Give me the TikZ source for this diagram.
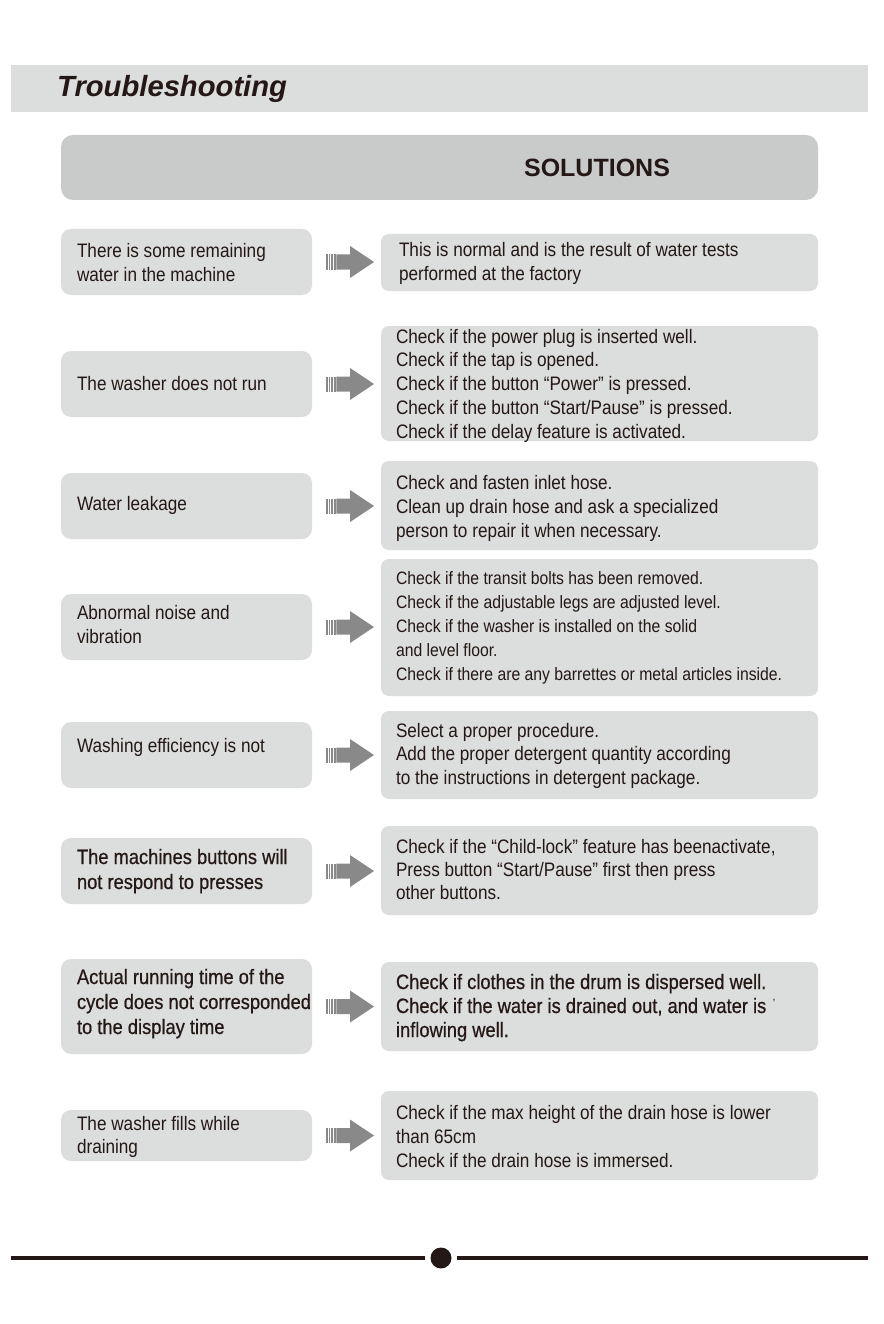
\documentclass[tikz,border=0pt]{standalone}
\usepackage{fontspec}
\setmainfont[FakeStretch=0.88]{Liberation Sans}
\newfontfamily\plainsans{Liberation Sans}
\newfontfamily\heavysans[FakeStretch=0.88,FakeBold=0.6]{Liberation Sans}
\usetikzlibrary{calc}
\definecolor{ink}{HTML}{231815}
\definecolor{boxgray}{HTML}{DCDDDD}
\definecolor{bargray}{HTML}{C9CACA}
\definecolor{arrowgray}{HTML}{898989}
\newcommand\topstrut{\rule{0pt}{18pt}}
\begin{document}
\begin{tikzpicture}[x=1pt,y=-1pt,
  box/.style={inner sep=0pt, outer sep=0pt, anchor=north west, fill=boxgray},
  probbox/.style={box, rounded corners=10pt},
  solbox/.style={box, rounded corners=8pt},
  txt/.style={anchor=north west, inner sep=0pt, outer sep=0pt, align=left, text=ink,
    font=\fontsize{19.5}{24}\selectfont},
  bigtxt/.style={txt, font=\heavysans\fontsize{20.8}{25}\selectfont},
  smalltxt/.style={txt, font=\fontsize{17.9}{24}\selectfont},
  footline/.style={draw=ink, line width=3.5pt},
  stripearrow/.pic={
    \foreach \s in {0,2.6,5.2,7.8} \fill[arrowgray] (\s,-7.5) rectangle ++(1.7,15);
    \fill[arrowgray] (10.4,-7.5) -- (24,-7.5) -- (24,-16) -- (48,0) -- (24,16) -- (24,7.5) -- (10.4,7.5) -- cycle;
  }
]
\useasboundingbox (0,0) rectangle (883,1324);
\fill[white] (0,0) rectangle (883,1324);

% header
\node[box, minimum width=857pt, minimum height=47pt] (hdr) at (11,65) {};
\node[anchor=base west, inner sep=0pt, text=ink, font=\plainsans\bfseries\itshape\fontsize{29.2}{34}\selectfont] (title) at (57,97) {Troubleshooting};

\node[box, fill=bargray, rounded corners=12pt, minimum width=757pt, minimum height=65pt] (bar) at (61,135) {};
\node[anchor=base, inner sep=0pt, text=ink, font=\plainsans\bfseries\fontsize{25}{30}\selectfont] (sol) at (597,177) {SOLUTIONS};

% boxes
\node[probbox, minimum width=251pt, minimum height=66pt] (L1) at (61,229) {};
\node[probbox, minimum width=251pt, minimum height=66pt] (L2) at (61,351) {};
\node[probbox, minimum width=251pt, minimum height=66pt] (L3) at (61,473) {};
\node[probbox, minimum width=251pt, minimum height=66pt] (L4) at (61,594) {};
\node[probbox, minimum width=251pt, minimum height=66pt] (L5) at (61,722) {};
\node[probbox, minimum width=251pt, minimum height=66pt] (L6) at (61,838) {};
\node[probbox, minimum width=251pt, minimum height=95pt] (L7) at (61,959) {};
\node[probbox, minimum width=251pt, minimum height=51pt] (L8) at (61,1110) {};

\node[solbox, minimum width=437pt, minimum height=57pt] (R1) at (381,234) {};
\node[solbox, minimum width=437pt, minimum height=115pt] (R2) at (381,326) {};
\node[solbox, minimum width=437pt, minimum height=89pt] (R3) at (381,461) {};
\node[solbox, minimum width=437pt, minimum height=137pt] (R4) at (381,559) {};
\node[solbox, minimum width=437pt, minimum height=88pt] (R5) at (381,711) {};
\node[solbox, minimum width=437pt, minimum height=89pt] (R6) at (381,826) {};
\node[solbox, minimum width=437pt, minimum height=89pt] (R7) at (381,962) {};
\node[solbox, minimum width=437pt, minimum height=89pt] (R8) at (381,1091) {};

% arrows
\foreach \i in {1,...,8} \pic (A\i) at ($(L\i.east)+(14,0)$) {stripearrow};

% problem texts
\node[txt] (L1t) at (77,257-18) {\topstrut There is some remaining\\water in the machine};
\node[txt] (L2t) at (77,390-18) {\topstrut The washer does not run};
\node[txt] (L3t) at (77,510-18) {\topstrut Water leakage};
\node[txt] (L4t) at (77,619-18) {\topstrut Abnormal noise and\\vibration};
\node[txt] (L5t) at (77,752-18) {\topstrut Washing efficiency is not};
\node[bigtxt] (L6t) at (77,864-18) {\topstrut The machines buttons will\\not respond to presses};
\node[bigtxt] (L7t) at (77,984-18) {\topstrut Actual running time of the\\cycle does not corresponded\\to the display time};
\node[txt, font=\fontsize{19.5}{23}\selectfont] (L8t) at (77,1130-18) {\topstrut The washer fills while\\draining};

% solution texts
\node[txt] (R1t) at (399,256-18) {\topstrut This is normal and is the result of water tests\\performed at the factory};
\node[txt, font=\fontsize{19.5}{23.75}\selectfont] (R2t) at (396,343-18) {\topstrut Check if the power plug is inserted well.\\Check if the tap is opened.\\Check if the button “Power” is pressed.\\Check if the button “Start/Pause” is pressed.\\Check if the delay feature is activated.};
\node[txt] (R3t) at (396,489-18) {\topstrut Check and fasten inlet hose.\\Clean up drain hose and ask a specialized\\person to repair it when necessary.};
\node[smalltxt] (R4t) at (396,584-18) {\topstrut Check if the transit bolts has been removed.\\Check if the adjustable legs are adjusted level.\\Check if the washer is installed on the solid\\and level floor.\\Check if there are any barrettes or metal articles inside.};
\node[txt, font=\fontsize{19.5}{23.5}\selectfont] (R5t) at (396,737-18) {\topstrut Select a proper procedure.\\Add the proper detergent quantity according\\to the instructions in detergent package.};
\node[txt, font=\fontsize{19.5}{23}\selectfont] (R6t) at (396,853-18) {\topstrut Check if the “Child-lock” feature has beenactivate,\\Press button “Start/Pause” first then press\\other buttons.};
\node[txt, font=\heavysans\fontsize{20.8}{24}\selectfont] (R7t) at (396,989-18) {\topstrut Check if clothes in the drum is dispersed well.\\Check if the water is drained out, and water is\\inflowing well.};
\node[anchor=base, inner sep=0pt, text=ink, font=\fontsize{12}{12}\selectfont] (tick) at (774,1007) {'};
\node[txt] (R8t) at (396,1119-18) {\topstrut Check if the max height of the drain hose is lower\\than 65cm\\Check if the drain hose is immersed.};

% footer
\node[circle, fill=ink, inner sep=0pt, minimum size=21pt] (dot) at (441,1258) {};
\coordinate (fl) at (11,1258);
\coordinate (fr) at (868,1258);
\draw[footline] (fl) -- ([xshift=-5pt]dot.west);
\draw[footline] ([xshift=5pt]dot.east) -- (fr);
\end{tikzpicture}
\end{document}
